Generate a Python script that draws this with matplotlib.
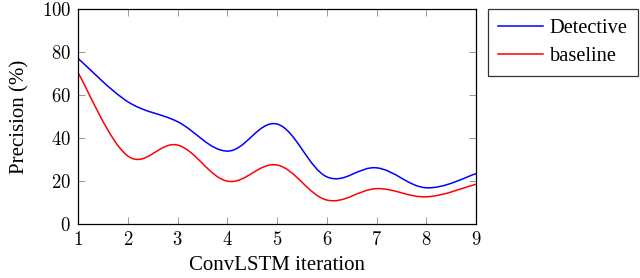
import numpy as np
import matplotlib.pyplot as plt
from matplotlib.path import Path
from matplotlib.patches import PathPatch
from matplotlib.lines import Line2D

plt.rcParams['font.family'] = 'Liberation Serif'
plt.rcParams['mathtext.fontset'] = 'cm'

iterations = [1, 2, 3, 4, 5, 6, 7, 8, 9]
detective = [77.2, 57.0, 47.7, 34.0, 46.6, 22.0, 26.2, 16.9, 23.5]
baseline = [70.5, 31.7, 36.8, 20.0, 27.5, 11.2, 16.5, 12.7, 18.6]
x_ticks = [1, 2, 3, 4, 5, 6, 7, 8, 9]
y_ticks = [0, 20, 40, 60, 80, 100]


def smooth_path(xs, ys, k=0.18):
    # bezier curve through the points, like a tikz smooth plot
    p = np.column_stack([xs, ys]).astype(float)
    n = len(p)
    verts = [p[0]]
    codes = [Path.MOVETO]
    for i in range(n - 1):
        t0 = p[min(i + 1, n - 1)] - p[max(i - 1, 0)]
        t1 = p[min(i + 2, n - 1)] - p[i]
        c1 = p[i] + k * t0
        c2 = p[i + 1] - k * t1
        verts += [c1, c2, p[i + 1]]
        codes += [Path.CURVE4] * 3
    return Path(verts, codes)


fig = plt.figure(figsize=(6.4, 2.78), dpi=100)
ax = fig.add_axes([0.122, 0.194, 0.622, 0.772])

ax.add_patch(PathPatch(smooth_path(iterations, detective), fill=False, edgecolor='blue', lw=1.1))
ax.add_patch(PathPatch(smooth_path(iterations, baseline), fill=False, edgecolor='red', lw=1.1))

ax.set_xlim(1, 9)
ax.set_ylim(0, 100)
ax.set_xticks(x_ticks)
ax.set_yticks(y_ticks)
ax.set_xticklabels(['$%d$' % v for v in x_ticks])
ax.set_yticklabels(['$%d$' % v for v in y_ticks])
ax.tick_params(direction='in', top=True, right=True, length=5, width=0.6,
               color='#888888', labelsize=13.5, pad=5)
for s in ax.spines.values():
    s.set_linewidth(0.9)

ax.set_xlabel('ConvLSTM iteration', fontsize=15, labelpad=5)
ax.set_ylabel('Precision (%)', fontsize=15, labelpad=9)

handles = [Line2D([], [], color='blue', lw=1.1), Line2D([], [], color='red', lw=1.1)]
leg = fig.legend(handles, ['Detective', 'baseline'], loc='upper left',
                 bbox_to_anchor=(0.762, 0.968), fontsize=14.7, frameon=True,
                 fancybox=False, edgecolor='black', handlelength=2.2,
                 handletextpad=0.35, borderpad=0.5, labelspacing=0.4,
                 borderaxespad=0)
leg.get_frame().set_linewidth(0.9)

fig.savefig('out.png', dpi=100)
